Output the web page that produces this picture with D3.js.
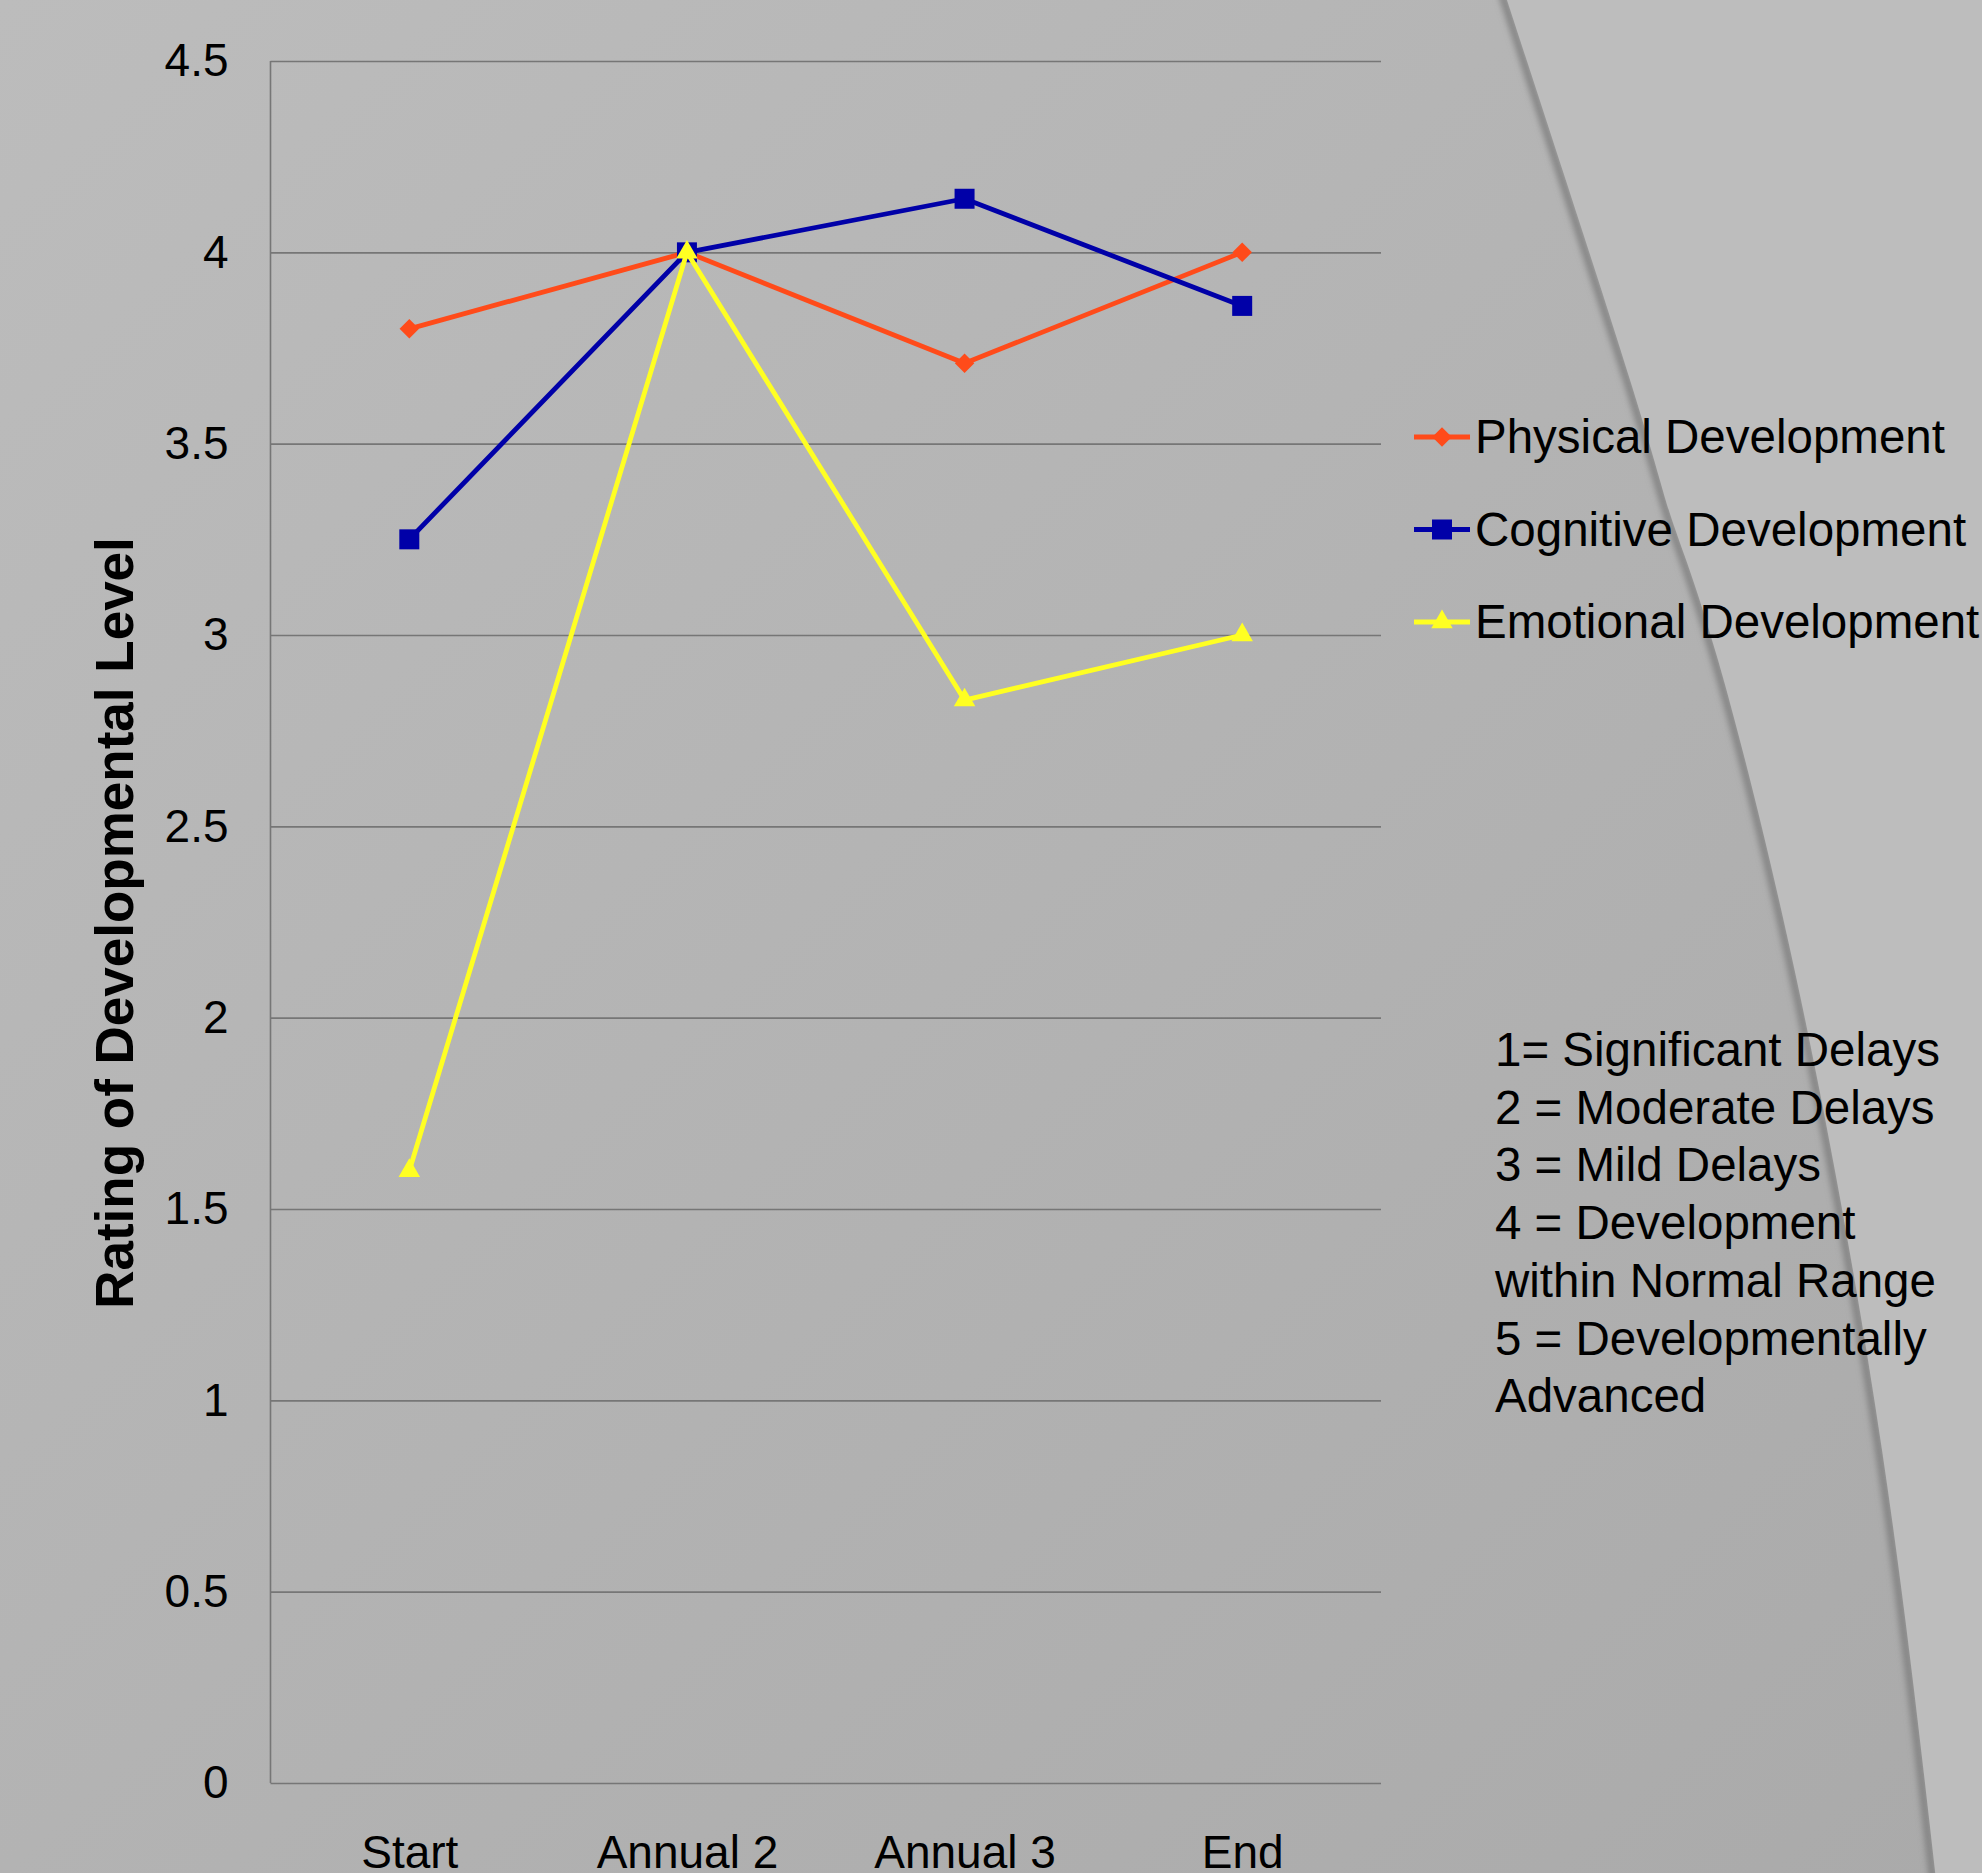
<!DOCTYPE html>
<html>
<head>
<meta charset="utf-8">
<script src="https://cdn.jsdelivr.net/npm/d3@7"></script>
<style>
  html, body { margin: 0; padding: 0; background: #b4b4b4; }
  svg { display: block; font-family: "Liberation Sans", Arial, sans-serif; }
</style>
</head>
<body>
<svg id="chart" width="1982" height="1873"></svg>
<script>
// Assessment points along the x axis
const categories = ["Start", "Annual 2", "Annual 3", "End"];

// Average developmental ratings per domain
const physical  = [3.8, 4.0, 3.71, 4.0];
const cognitive = [3.25, 4.0, 4.14, 3.86];
const emotional = [1.6, 4.0, 2.83, 3.0];

const seriesNames = ["Physical Development", "Cognitive Development", "Emotional Development"];

// Y axis tick values and their labels
const yTicks = [0, 0.5, 1, 1.5, 2, 2.5, 3, 3.5, 4, 4.5];
const yTickLabels = ["0", "0.5", "1", "1.5", "2", "2.5", "3", "3.5", "4", "4.5"];

// Rating key shown beside the chart
const keyLines = [
  "1= Significant Delays",
  "2 = Moderate Delays",
  "3 = Mild Delays",
  "4 = Development",
  "within Normal Range",
  "5 = Developmentally",
  "Advanced"
];

(function draw() {
  const W = 1982, H = 1873;
  const svg = d3.select("#chart");
  const defs = svg.append("defs");

  // ---- slide background ----
  const bg = defs.append("linearGradient").attr("id", "bgGrad")
    .attr("x1", 0).attr("y1", 0).attr("x2", 1).attr("y2", 1);
  bg.append("stop").attr("offset", "0%").attr("stop-color", "#bcbcbc");
  bg.append("stop").attr("offset", "100%").attr("stop-color", "#aaaaaa");
  svg.append("rect").attr("width", W).attr("height", H).attr("fill", "url(#bgGrad)");

  const blur = defs.append("filter").attr("id", "edgeBlur")
    .attr("x", "-20%").attr("y", "-5%").attr("width", "140%").attr("height", "110%");
  blur.append("feGaussianBlur").attr("stdDeviation", 3);

  // curved panel edge on the right side
  const edgePts = [[1505, -6], [1630, 380], [1672, 520], [1718, 660], [1801, 1000], [1882, 1450], [1936, 1880]];
  const edgeLine = d3.line().curve(d3.curveNatural);
  svg.append("path")
    .attr("d", edgeLine(edgePts.map(p => [p[0] - 3, p[1]])))
    .attr("fill", "none").attr("stroke", "#7f7f7f").attr("stroke-width", 7)
    .attr("filter", "url(#edgeBlur)");
  svg.append("path")
    .attr("d", edgeLine(edgePts) + `L${W + 10},${H + 10}L${W + 10},-10Z`)
    .attr("fill", "#bdbdbd");

  // ---- plot area ----
  const pLeft = 270.5, pRight = 1381, pTop = 61, pBottom = 1783;
  const x = d3.scalePoint().domain(categories).range([pLeft, pRight]).padding(0.5);
  const y = d3.scaleLinear().domain([0, 4.5]).range([pBottom, pTop]);

  const gridColor = "#767676";

  // horizontal gridlines with value labels
  const yAxis = d3.axisLeft(y)
    .tickValues(yTicks)
    .tickFormat((d, i) => yTickLabels[i])
    .tickSize(-(pRight - pLeft))
    .tickPadding(42);
  const gy = svg.append("g").attr("transform", `translate(${pLeft},0)`).call(yAxis);
  gy.select(".domain").remove();
  gy.selectAll(".tick line").attr("stroke", gridColor).attr("stroke-width", 1.6);
  gy.selectAll(".tick text")
    .attr("fill", "#000").attr("font-size", 46)
    .attr("font-family", "'Liberation Sans', Arial, sans-serif");

  // vertical axis line
  svg.append("line")
    .attr("x1", pLeft).attr("x2", pLeft).attr("y1", pTop).attr("y2", pBottom)
    .attr("stroke", gridColor).attr("stroke-width", 1.6);

  // category labels
  const xAxis = d3.axisBottom(x).tickSize(0).tickPadding(52);
  const gx = svg.append("g").attr("transform", `translate(0,${pBottom})`).call(xAxis);
  gx.select(".domain").remove();
  gx.selectAll(".tick text")
    .attr("fill", "#000").attr("font-size", 46)
    .attr("font-family", "'Liberation Sans', Arial, sans-serif");

  // y axis title
  svg.append("text")
    .attr("transform", `translate(114,923) rotate(-90)`)
    .attr("text-anchor", "middle")
    .attr("dominant-baseline", "central")
    .attr("font-weight", "bold")
    .attr("font-size", 53)
    .attr("fill", "#000")
    .text("Rating of Developmental Level");

  // ---- series ----
  const series = [
    { name: seriesNames[0], values: physical,  color: "#ff4b1a", symbol: d3.symbolSquare,   size: 190, rotate: 45 },
    { name: seriesNames[1], values: cognitive, color: "#0000a8", symbol: d3.symbolSquare,   size: 400, rotate: 0 },
    { name: seriesNames[2], values: emotional, color: "#ffff22", symbol: d3.symbolTriangle, size: 200, rotate: 0 }
  ];

  const line = d3.line()
    .x((d, i) => x(categories[i]))
    .y(d => y(d));

  series.forEach(s => {
    const g = svg.append("g");
    g.append("path")
      .attr("d", line(s.values))
      .attr("fill", "none")
      .attr("stroke", s.color)
      .attr("stroke-width", 4.8)
      .attr("stroke-linejoin", "round");
    g.selectAll("path.marker")
      .data(s.values)
      .join("path")
      .attr("class", "marker")
      .attr("d", d3.symbol().type(s.symbol).size(s.size))
      .attr("transform", (d, i) => `translate(${x(categories[i])},${y(d)}) rotate(${s.rotate})`)
      .attr("fill", s.color);
  });

  // ---- legend ----
  const legend = svg.append("g");
  series.forEach((s, i) => {
    const baseY = 453 + i * 92.5;
    const ly = baseY - 16;
    legend.append("line")
      .attr("x1", 1414).attr("x2", 1470).attr("y1", ly).attr("y2", ly)
      .attr("stroke", s.color).attr("stroke-width", 4.8);
    legend.append("path")
      .attr("d", d3.symbol().type(s.symbol).size(s.size)())
      .attr("transform", `translate(1442,${ly}) rotate(${s.rotate})`)
      .attr("fill", s.color);
    legend.append("text")
      .attr("x", 1475).attr("y", baseY)
      .attr("font-size", 47.5).attr("fill", "#000")
      .text(s.name);
  });

  // ---- rating key ----
  const key = svg.append("text")
    .attr("font-size", 47.5).attr("fill", "#000");
  keyLines.forEach((t, i) => {
    key.append("tspan").attr("x", 1495).attr("y", 1066 + i * 57.7).text(t);
  });
})();
</script>
</body>
</html>
